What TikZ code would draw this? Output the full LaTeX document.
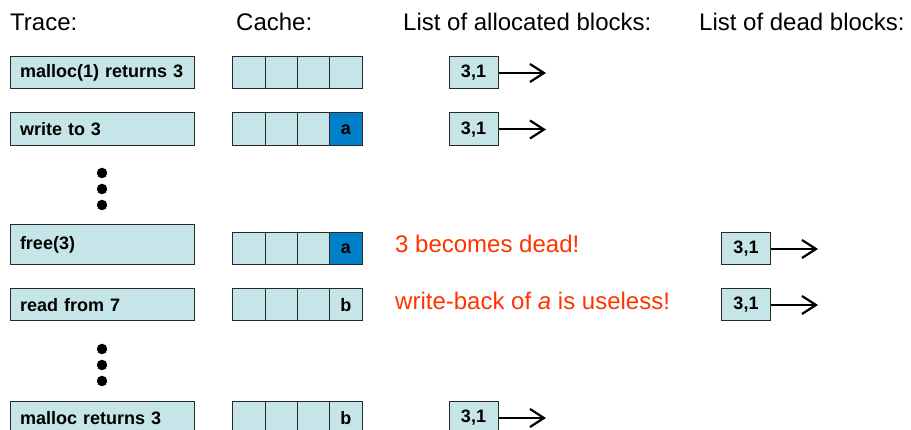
\documentclass[tikz,border=0pt]{standalone}
\usepackage{fontspec}
\setmainfont{Liberation Sans}
\usetikzlibrary{arrows.meta}
\definecolor{boxfill}{RGB}{197,229,232}
\definecolor{darkcell}{RGB}{0,128,200}
\definecolor{notered}{RGB}{255,51,0}
\definecolor{edge}{RGB}{40,40,40}
\begin{document}
\begin{tikzpicture}[x=1pt,y=-1pt,
  tbox/.style={draw=edge,line width=1pt,fill=boxfill,inner xsep=10pt,inner ysep=0pt,
    text width=164pt,align=left,font=\fontsize{18}{20}\selectfont\bfseries},
  cell/.style={draw=edge,line width=1pt,fill=boxfill,minimum width=32.25pt,inner sep=0pt,
    font=\fontsize{18}{20}\selectfont\bfseries},
  darkc/.style={cell,fill=darkcell},
  lbox/.style={draw=edge,line width=1pt,fill=boxfill,minimum width=49pt,minimum height=32pt,
    inner sep=0pt,font=\fontsize{18}{20}\selectfont\bfseries},
  hdr/.style={anchor=base west,inner sep=0pt,font=\fontsize{24}{28}\selectfont},
  note/.style={anchor=base west,inner sep=0pt,text=notered,font=\fontsize{24}{28}\selectfont},
  arr/.style={line width=2pt,-{Straight Barb[length=14pt,width=18pt,line width=2.2pt]}},
  bigdot/.style={circle,fill=black,minimum size=10.5pt,inner sep=0pt}
]
\clip (0,0) rectangle (911,430);
\fill[white] (0,0) rectangle (911,430);

% headers
\node[hdr] (h1) at (10,31) {Trace:};
\node[hdr] (h2) at (236,31) {Cache:};
\node[hdr] (h3) at (403,31) {List of allocated blocks:};
\node[hdr] (h4) at (699,31) {List of dead blocks:};

% trace boxes
\node[tbox,minimum height=32pt] (t1) at (102,73) {\mbox{malloc(1) returns 3}};
\node[tbox,minimum height=33pt] (t2) at (102,129.5) {\mbox{write to 3}};
\node[tbox,minimum height=40pt] (t3) at (102,245) {\mbox{free(3)}};
\node[tbox,minimum height=32pt] (t4) at (102,305) {\mbox{read from 7}};
\node[tbox,minimum height=32pt] (t5) at (102,418) {\mbox{malloc returns 3}};

% dots
\node[bigdot] (d1) at (102,173) {};
\node[bigdot] (d2) at (102,189) {};
\node[bigdot] (d3) at (102,205) {};
\node[bigdot] (d4) at (102,349) {};
\node[bigdot] (d5) at (102,365) {};
\node[bigdot] (d6) at (102,381) {};

% cache rows
\foreach \r/\y/\h/\last/\st in {1/73/32/{}/cell, 2/129.5/33/a/darkc, 3/249/32/a/darkc, 4/305/32/b/cell, 5/418/32/b/cell}{
  \node[cell,minimum height=\h pt] (c\r a) at (249.1,\y) {};
  \node[cell,minimum height=\h pt] (c\r b) at (281.4,\y) {};
  \node[cell,minimum height=\h pt] (c\r c) at (313.6,\y) {};
  \node[\st,minimum height=\h pt] (c\r d) at (345.9,\y) {\last};
}

% allocated list
\node[lbox] (a1) at (473.5,73) {3,1};
\node[lbox,minimum height=33pt] (a2) at (473.5,129.5) {3,1};
\node[lbox] (a5) at (473.5,418) {3,1};
\coordinate (ae1) at (546,73);
\coordinate (ae2) at (546,129.5);
\coordinate (ae5) at (546,418);
\draw[arr] (a1.east) -- (ae1);
\draw[arr] (a2.east) -- (ae2);
\draw[arr] (a5.east) -- (ae5);

% dead list
\node[lbox] (k3) at (746,249) {3,1};
\node[lbox] (k4) at (746,305) {3,1};
\coordinate (ke3) at (818,249);
\coordinate (ke4) at (818,305);
\draw[arr] (k3.east) -- (ke3);
\draw[arr] (k4.east) -- (ke4);

% notes
\node[note] (n1) at (395,253) {3 becomes dead!};
\node[note] (n2) at (395,310) {write-back of \textit{a} is useless!};
\end{tikzpicture}
\end{document}
